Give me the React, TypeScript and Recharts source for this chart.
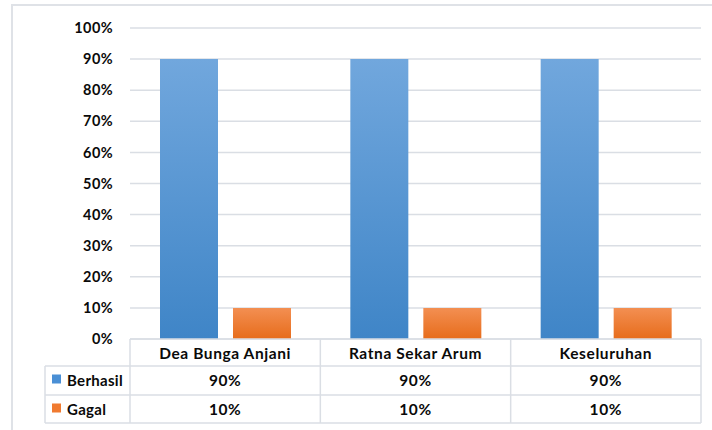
import React from 'react';
import { BarChart, Bar, XAxis, YAxis, CartesianGrid } from 'recharts';

const categories = ['Dea Bunga Anjani', 'Ratna Sekar Arum', 'Keseluruhan'];
const berhasil = [90, 90, 90];
const gagal = [10, 10, 10];
const seriesNames = ['Berhasil', 'Gagal'];
const yTicks = [0, 10, 20, 30, 40, 50, 60, 70, 80, 90, 100];

const data = categories.map((c, i) => ({ name: c, Berhasil: berhasil[i], Gagal: gagal[i] }));
const seriesValues = [berhasil, gagal];

const W = 712;
const H = 430;
const PLOT_LEFT = 130;
const PLOT_RIGHT = 701;
const PLOT_TOP = 28;
const AXIS_Y = 339;
const ROWS = [366, 395, 423];
const LEGEND_LEFT = 45;
const GRID = '#dadee4';
const FONT = 'Lato, "Open Sans", sans-serif';
const TEXT = '#0a0a0a';
const LEGEND_COLORS = ['#4a8fd5', '#f07a30'];
const FS = 15.5;
const LS = 0.6;

const band = (PLOT_RIGHT - PLOT_LEFT) / categories.length;

const TableTick = (props: any) => {
  const { payload, index } = props;
  const cx = payload.coordinate;
  const left = cx - band / 2;
  const right = cx + band / 2;
  const cat = categories[index];
  const tp = { fontSize: FS, fontWeight: 700, fontFamily: FONT, fill: TEXT, letterSpacing: LS };
  return (
    <g>
      <line x1={left} x2={left} y1={AXIS_Y} y2={ROWS[2]} stroke={GRID} strokeWidth={1.5} />
      {index === categories.length - 1 && (
        <line x1={right} x2={right} y1={AXIS_Y} y2={ROWS[2]} stroke={GRID} strokeWidth={1.5} />
      )}
      {index === 0 && (
        <g>
          {ROWS.map((ry) => (
            <line key={ry} x1={LEGEND_LEFT} x2={PLOT_RIGHT} y1={ry} y2={ry} stroke={GRID} strokeWidth={1.5} />
          ))}
          <line x1={LEGEND_LEFT} x2={LEGEND_LEFT} y1={ROWS[0]} y2={ROWS[2]} stroke={GRID} strokeWidth={1.5} />
          {seriesNames.map((s, si) => (
            <g key={s}>
              <rect x={52} y={ROWS[si] + 8.5} width={9} height={9} fill={LEGEND_COLORS[si]} />
              <text x={67} y={ROWS[si] + 20} {...tp} fontSize={15} letterSpacing={0.3}>
                {s}
              </text>
            </g>
          ))}
        </g>
      )}
      <text x={cx} y={358.5} textAnchor="middle" {...tp}>
        {cat}
      </text>
      {seriesValues.map((vals, si) => (
        <text key={si} x={cx} y={ROWS[si] + 20} textAnchor="middle" {...tp}>
          {vals[index] + '%'}
        </text>
      ))}
    </g>
  );
};

export default function App() {
  return (
    <div style={{ position: 'absolute', left: 0, top: 0, width: W, height: H, background: '#fff', overflow: 'hidden' }}>
      <div
        style={{
          position: 'absolute',
          left: 11,
          top: 4,
          width: 760,
          height: 480,
          border: '2px solid #dfe2e7',
          boxSizing: 'border-box',
        }}
      />
      <div style={{ position: 'absolute', left: 0, top: 0 }}>
        <BarChart
          width={W}
          height={H}
          data={data}
          margin={{ top: PLOT_TOP, right: W - PLOT_RIGHT, bottom: 0, left: 0 }}
          barCategoryGap={30}
          barGap={15}
        >
          <defs>
            <linearGradient id="gBlue" x1="0" y1="0" x2="0" y2="1">
              <stop offset="0%" stopColor="#71a7dd" />
              <stop offset="100%" stopColor="#3f85c7" />
            </linearGradient>
            <linearGradient id="gOrange" x1="0" y1="0" x2="0" y2="1">
              <stop offset="0%" stopColor="#f38f52" />
              <stop offset="100%" stopColor="#e76c1b" />
            </linearGradient>
          </defs>
          <CartesianGrid vertical={false} stroke={GRID} strokeWidth={1.5} />
          <XAxis
            dataKey="name"
            height={H - AXIS_Y}
            axisLine={{ stroke: GRID, strokeWidth: 1.5 }}
            tickLine={false}
            tick={<TableTick />}
            interval={0}
          />
          <YAxis
            width={PLOT_LEFT}
            domain={[0, 100]}
            ticks={yTicks}
            tickFormatter={(v: number) => v + '%'}
            axisLine={false}
            tickLine={false}
            tickSize={6}
            tickMargin={11}
            tick={{ fontSize: 14.5, fontWeight: 700, fontFamily: FONT, fill: TEXT, letterSpacing: 0.4 }}
          />
          <Bar dataKey="Berhasil" fill="url(#gBlue)" isAnimationActive={false} />
          <Bar dataKey="Gagal" fill="url(#gOrange)" isAnimationActive={false} />
        </BarChart>
      </div>
    </div>
  );
}
